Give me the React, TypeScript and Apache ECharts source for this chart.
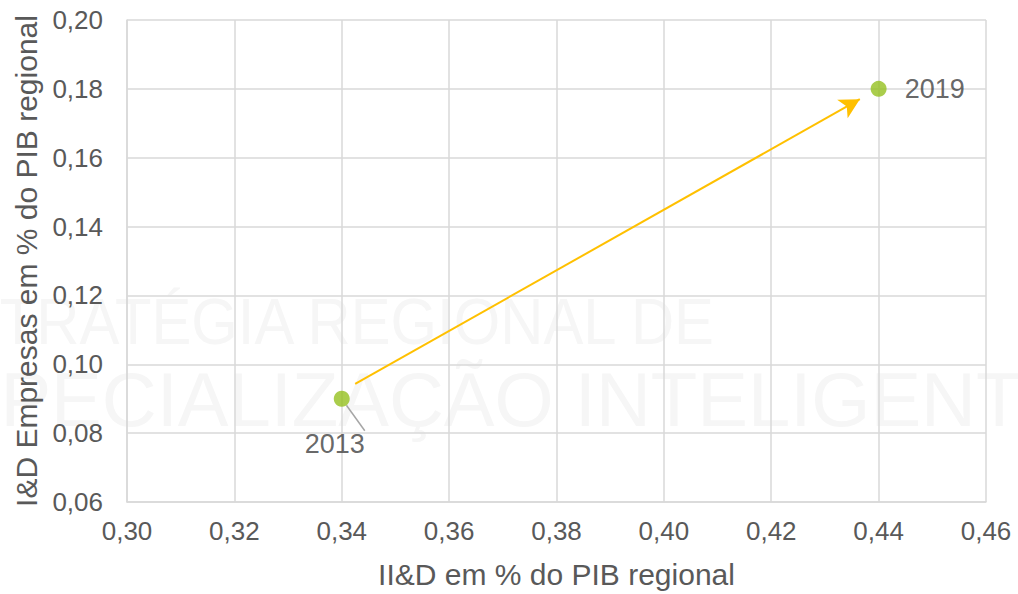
import React, { useEffect, useRef } from "react";
import * as echarts from "echarts";

const years = ["2013", "2019"];
const iidPib = [0.34, 0.44];
const empresasPib = [0.09, 0.18];
const arrowStart = [0.3425, 0.0943];
const arrowEnd = [0.4365, 0.177];
const xTitle = "II&D em % do PIB regional";
const yTitle = "I&D Empresas em % do PIB regional";
const watermark1 = "ESTRATÉGIA REGIONAL DE";
const watermark2 = "ESPECIALIZAÇÃO INTELIGENTE";

const fmt = (v: number) => v.toFixed(2).replace(".", ",");

export default function App() {
  const ref = useRef<HTMLDivElement>(null);
  useEffect(() => {
    if (!ref.current) return;
    const chart = echarts.init(ref.current, null, { renderer: "svg" });
    const font = "Liberation Sans, Arial, sans-serif";
    chart.setOption({
      animation: false,
      backgroundColor: "#ffffff",
      textStyle: { fontFamily: font },
      graphic: [
        {
          type: "text",
          x: -80,
          y: 289,
          scaleX: 0.92,
          z: -10,
          silent: true,
          style: { text: watermark1, fontSize: 65, fontFamily: font, fill: "#f6f6f6" },
        },
        {
          type: "text",
          x: -101,
          y: 361,
          z: -10,
          silent: true,
          style: { text: watermark2, fontSize: 76, fontFamily: font, fill: "#f6f6f6" },
        },
      ],
      grid: { left: 127, right: 32, top: 20, bottom: 88, containLabel: false },
      xAxis: {
        type: "value",
        min: 0.3,
        max: 0.46,
        interval: 0.02,
        name: xTitle,
        nameLocation: "middle",
        nameGap: 57,
        nameTextStyle: { fontSize: 30, color: "#595959", fontFamily: font },
        axisLine: { show: true, lineStyle: { color: "#d9d9d9", width: 1.5 } },
        axisTick: { show: false },
        axisLabel: { formatter: fmt, fontSize: 26, color: "#595959", margin: 16, fontFamily: font },
        splitLine: { show: true, lineStyle: { color: "#d9d9d9", width: 1.5 } },
      },
      yAxis: {
        type: "value",
        min: 0.06,
        max: 0.2,
        interval: 0.02,
        name: yTitle,
        nameLocation: "middle",
        nameGap: 85,
        nameTextStyle: { fontSize: 30, color: "#595959", fontFamily: font },
        axisLine: { show: true, lineStyle: { color: "#d9d9d9", width: 1.5 } },
        axisTick: { show: false },
        axisLabel: { formatter: fmt, fontSize: 26, color: "#595959", margin: 24, fontFamily: font },
        splitLine: { show: true, lineStyle: { color: "#d9d9d9", width: 1.5 } },
      },
      series: [
        {
          type: "scatter",
          symbolSize: 16,
          itemStyle: { color: "#95c11f" },
          data: years.map((y, i) => ({
            value: [iidPib[i], empresasPib[i]],
            name: y,
            label: i === 0
              ? { show: true, position: "bottom", distance: 24, offset: [-7, 0] }
              : { show: true, position: "right", distance: 18 },
            labelLine: i === 0 ? { show: true, lineStyle: { color: "#a6a6a6", width: 1.5 } } : { show: false },
          })),
          label: {
            formatter: (p: any) => p.name,
            fontSize: 27,
            color: "#404040",
            fontFamily: font,
          },
          z: 5,
        },
        {
          type: "line",
          data: [],
          markLine: {
            silent: true,
            symbol: ["none", "arrow"],
            symbolSize: [16, 20],
            label: { show: false },
            lineStyle: { color: "#ffc000", width: 2, type: "solid" },
            data: [[{ coord: arrowStart }, { coord: arrowEnd }]],
          },
        },
      ],
    });
    return () => chart.dispose();
  }, []);
  return <div ref={ref} style={{ position: "absolute", left: 0, top: 0, width: 1018, height: 594 }} />;
}
